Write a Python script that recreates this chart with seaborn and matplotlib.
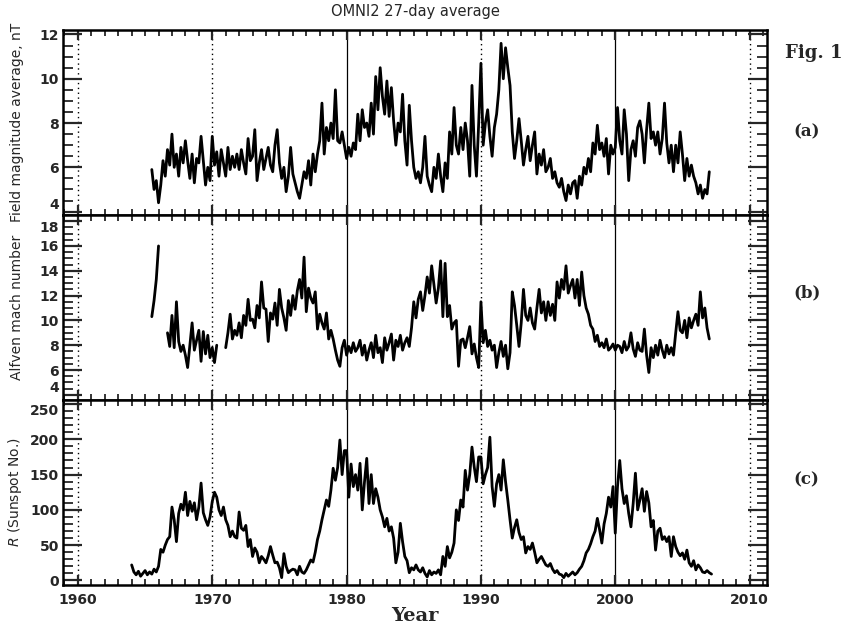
import numpy as np
import pandas as pd
import matplotlib
matplotlib.use("Agg")
import matplotlib.pyplot as plt
from matplotlib.ticker import MultipleLocator
import seaborn as sns

# ---------------- data (27-day averages, 6 samples / year) ----
STEP = 1.0 / 6.0

# (a) Field magnitude average, nT  -- starts 1965.5
B_START = 1965.5
B_1960s = [5.9, 5.0, 5.4,
           4.4, 5.2, 6.3, 5.6, 6.8, 6.1,
           7.5, 6.0, 6.6, 5.6, 6.9, 6.2,
           7.2, 6.3, 5.5, 6.6, 5.3, 6.4,
           6.2, 7.4, 6.3, 5.2, 6.0, 5.4]
B_1970s = [7.4, 6.1, 6.7, 5.6, 6.8, 6.2,
           5.6, 6.9, 5.9, 6.5, 6.0, 6.6,
           5.9, 6.8, 6.2, 5.7, 7.3, 6.3,
           6.5, 7.7, 5.4, 6.2, 6.8, 5.9,
           6.4, 6.9, 6.1, 5.8, 7.0, 7.7,
           6.2, 5.5, 6.0, 4.9, 5.6, 6.9,
           5.7, 5.3, 4.9, 4.6, 5.2, 5.8,
           5.5, 6.3, 5.2, 6.6, 5.8, 6.6,
           7.2, 8.9, 6.6, 7.8, 7.2, 8.0,
           7.3, 9.5, 7.2, 7.1, 7.6, 7.0]
B_1980s = [6.4, 6.9, 6.5, 7.1, 6.8, 8.4,
           7.2, 8.6, 7.8, 8.0, 7.4, 8.9,
           7.5, 10.1, 8.6, 10.5, 9.2, 8.4,
           9.9, 8.3, 9.6, 8.1, 7.0, 8.0,
           7.6, 9.3, 7.2, 6.1, 8.8, 7.2,
           6.0, 5.5, 5.8, 5.3, 6.0, 7.4,
           5.6, 5.2, 4.9, 6.0, 5.5, 6.6,
           5.6, 4.9, 6.2, 5.5, 7.6, 6.6,
           8.7, 7.0, 6.6, 7.8, 6.8, 8.0,
           7.2, 5.6, 9.7, 7.0, 5.6, 8.0]
B_1990s = [10.7, 7.0, 8.0, 8.6, 7.4, 6.5,
           7.8, 8.4, 9.5, 11.6, 10.0, 11.4,
           10.5, 9.7, 7.6, 6.4, 7.2, 8.2,
           7.2, 6.1, 6.8, 7.4, 6.3, 7.0,
           7.6, 5.7, 6.6, 6.1, 6.8, 5.8,
           6.0, 6.4, 5.5, 5.8, 5.3, 5.1,
           5.5, 4.9, 4.5, 5.2, 4.8, 5.3,
           5.4, 4.6, 5.6, 5.2, 6.0, 5.7,
           6.4, 5.8, 7.1, 6.6, 7.9, 6.8,
           7.1, 6.5, 7.3, 5.7, 7.0, 6.6]
B_2000s = [6.9, 8.7, 7.2, 6.6, 8.6, 7.5,
           5.4, 6.8, 7.2, 6.5, 7.8, 8.1,
           7.5, 6.2, 7.7, 8.9, 7.3, 7.6,
           7.0, 7.6, 6.6, 7.3, 8.9, 7.1,
           6.2, 7.0, 5.8, 7.0, 6.2, 7.6,
           6.6, 5.4, 6.4, 5.6, 6.1, 5.6,
           5.3, 4.8, 5.2, 4.6, 5.0, 4.8,
           5.8]

# (b) Alfven mach number -- three data segments
MA_SEG1_START = 1965.5
MA_SEG1 = [10.3, 11.6, 13.3, 16.0]
MA_SEG2_START = 1966.6667
MA_SEG2 = [9.0, 7.9,
           10.4, 7.8, 11.5, 8.3, 7.5, 8.0,
           7.2, 6.2, 8.0, 9.8, 7.6, 8.4,
           9.2, 6.7, 9.1, 7.3, 8.8, 7.0,
           7.8, 6.6, 8.0]
MA_SEG3_START = 1971.0
MA_1970s = [7.8, 9.0, 10.5, 8.5, 9.2, 8.8,
            9.8, 8.6, 10.4, 9.6, 11.7, 10.0,
            10.1, 9.4, 11.2, 10.2, 13.1, 11.0,
            10.9, 8.3, 10.6, 10.1, 11.4, 9.6,
            12.5, 11.0, 10.2, 9.2, 11.6, 10.4,
            12.0, 10.9, 12.4, 13.3, 11.8, 15.1,
            10.7, 12.6, 11.8, 11.4, 12.3, 9.3,
            10.5, 9.8, 9.3, 10.6, 8.5, 9.2,
            8.5, 7.6, 6.8, 6.3, 7.8, 8.4]
MA_1980s = [7.2, 7.9, 7.4, 8.2, 7.5, 7.8,
            8.4, 7.2, 8.0, 6.8, 7.6, 8.2,
            7.0, 8.8, 7.4, 7.8, 6.6, 8.6,
            7.6, 8.2, 8.9, 6.8, 8.4, 7.9,
            8.8, 7.6, 8.2, 8.6, 7.9, 9.4,
            11.5, 10.2, 11.7, 12.3, 10.8, 12.0,
            13.5, 12.2, 14.4, 12.9, 11.4, 12.6,
            14.8, 10.3, 14.6, 10.3, 11.2, 9.3,
            9.8, 10.0, 6.3, 8.4, 8.5, 7.8,
            8.6, 9.5, 7.3, 8.1, 7.0, 6.2]
MA_1990s = [11.5, 8.2, 9.2, 7.9, 8.4, 7.6,
            8.0, 6.2, 7.4, 8.3, 7.1, 8.0,
            6.1, 7.4, 12.3, 11.2, 9.6, 7.9,
            9.8, 12.5, 10.4, 10.0, 11.0, 9.8,
            9.3, 11.0, 12.5, 10.6, 11.5, 10.0,
            11.5, 10.4, 11.3, 10.0, 13.1, 11.8,
            13.3, 12.5, 14.4, 12.2, 12.8, 13.3,
            11.8, 13.3, 11.2, 13.9, 12.0, 11.0,
            10.5, 9.6, 9.3, 8.3, 8.8, 7.9,
            8.2, 7.8, 8.5, 7.6, 7.8, 8.1]
MA_2000s = [7.6, 8.0, 7.9, 7.4, 8.3, 7.6,
            7.9, 9.0, 7.7, 7.1, 8.2, 7.6,
            7.5, 9.3, 7.2, 5.8, 7.8, 7.0,
            8.0, 7.2, 8.4, 7.6, 7.0, 8.0,
            7.3, 7.8, 7.2, 9.0, 10.7, 9.2,
            9.0, 10.0, 8.6, 10.2, 9.4, 10.0,
            10.5, 9.6, 12.3, 10.2, 11.0, 9.4,
            8.5]

# (c) Sunspot number R -- starts 1964.0
R_START = 1964.0
R_1960s = [22, 12, 8, 13, 6, 10,
           14, 8, 12, 9, 16, 12,
           20, 44, 40, 50, 58, 62,
           104, 86, 55, 95, 108, 100,
           125, 92, 112, 98, 110, 86,
           104, 138, 96, 86, 78, 90]
R_1970s = [112, 125, 118, 100, 92, 104,
           86, 78, 62, 70, 62, 60,
           97, 74, 71, 78, 48, 58,
           34, 46, 40, 25, 34, 30,
           25, 35, 48, 36, 25, 26,
           18, 4, 38, 20, 11, 14,
           16, 15, 8, 20, 12, 10,
           15, 22, 29, 26, 40, 58,
           70, 86, 100, 114, 105, 128,
           159, 142, 160, 199, 150, 184]
R_1980s = [184, 118, 165, 133, 150, 128,
           166, 100, 140, 173, 109, 150,
           109, 130, 118, 100, 90, 76,
           88, 70, 76, 60, 25, 40,
           81, 55, 34, 28, 11, 18,
           15, 22, 15, 12, 18, 10,
           5, 14, 8, 12, 10, 15,
           8, 34, 20, 48, 32, 40,
           53, 100, 85, 114, 104, 156,
           128, 150, 189, 161, 140, 175]
R_1990s = [175, 137, 150, 160, 203, 133,
           105, 137, 150, 128, 171, 140,
           114, 86, 60, 75, 86, 68,
           58, 62, 39, 48, 44, 53,
           40, 25, 30, 34, 28, 22,
           20, 24, 16, 11, 14, 9,
           8, 4, 10, 6, 9, 12,
           8, 11, 16, 20, 28, 39,
           44, 52, 62, 70, 88, 72,
           53, 80, 95, 118, 104, 133]
R_2000s = [67, 133, 170, 130, 109, 120,
           95, 76, 109, 152, 100, 114,
           130, 98, 126, 110, 76, 85,
           43, 70, 74, 58, 62, 55,
           62, 34, 62, 48, 40, 35,
           39, 30, 43, 25, 20, 28,
           15, 22, 18, 12, 11, 14,
           11, 9]

DECADES = [1960, 1970, 1980, 1990, 2000, 2010]
SOLID_DECADES = [1980, 2000]

YLABELS = ["Field magnitude average, nT", "Alfven mach number",
           r"$\it{R}$ (Sunspot No.)"]
PANEL_TAGS = ["(a)", "(b)", "(c)"]


def series(start, values, seg):
    vals = np.asarray(values, dtype=float)
    t = start + STEP * np.arange(len(vals))
    return pd.DataFrame({"year": t, "value": vals, "seg": seg})


df_b = series(B_START, B_1960s + B_1970s + B_1980s + B_1990s + B_2000s, 0)
df_m = pd.concat([series(MA_SEG1_START, MA_SEG1, 0),
                  series(MA_SEG2_START, MA_SEG2, 1),
                  series(MA_SEG3_START, MA_1970s + MA_1980s + MA_1990s + MA_2000s, 2)])
df_r = series(R_START, R_1960s + R_1970s + R_1980s + R_1990s + R_2000s, 0)

# ---------------- figure ----------------
sns.set_theme(style="ticks")
plt.rcParams["font.family"] = ["DejaVu Sans"]

fig, axes = plt.subplots(3, 1, sharex=True, figsize=(8.42, 6.26), dpi=100)
fig.subplots_adjust(left=0.075, right=0.911, top=0.952, bottom=0.066, hspace=0)

frames = [df_b, df_m, df_r]
ylims = [(3.85, 12.2), (3.6, 18.5), (-6, 256)]
ymajor = [2, 2, 50]
yminor = [0.5, 0.5, 10]

for ax, df, ylim, ymj, ymn, ylab in zip(axes, frames, ylims, ymajor, yminor, YLABELS):
    for s, g in df.groupby("seg"):
        sns.lineplot(data=g, x="year", y="value", ax=ax, color="black",
                     linewidth=2.0, estimator=None, sort=False, legend=False)
    for d in DECADES:
        if d in SOLID_DECADES:
            ax.axvline(d, color="black", lw=0.9, zorder=0)
        else:
            ax.axvline(d, color="black", lw=1.0, ls=(0, (1, 2.5)), zorder=0)
    ax.set_xlim(1958.9, 2011.3)
    ax.set_ylim(*ylim)
    ax.yaxis.set_major_locator(MultipleLocator(ymj))
    ax.yaxis.set_minor_locator(MultipleLocator(ymn))
    ax.xaxis.set_major_locator(MultipleLocator(10))
    ax.xaxis.set_minor_locator(MultipleLocator(1))
    ax.tick_params(axis="y", which="major", direction="in", length=14, width=1.6,
                   left=True, right=True, labelsize=10, pad=3)
    ax.tick_params(axis="y", which="minor", direction="in", length=7, width=1.3,
                   left=True, right=True)
    ax.tick_params(axis="x", which="major", direction="in", length=7, width=1.6,
                   top=True, bottom=True, labelsize=10, pad=6)
    ax.tick_params(axis="x", which="minor", direction="in", length=4, width=1.3,
                   top=True, bottom=True)
    for sp in ax.spines.values():
        sp.set_linewidth(1.8)
        sp.set_color("black")
    ax.set_ylabel(ylab, fontsize=10, labelpad=4)
    ax.set_xlabel("")
    ax.set_facecolor("white")

fig.canvas.draw()
for i, ax in enumerate(axes):
    lo, hi = ax.get_ylim()
    for lbl, val in zip(ax.get_yticklabels(), ax.get_yticks()):
        lbl.set_fontweight("bold")
        if lo <= val <= hi:
            if i > 0 and hi - val < 0.06 * (hi - lo):
                lbl.set_va("top")
            if i < len(axes) - 1 and val - lo < 0.06 * (hi - lo):
                lbl.set_va("bottom")
    for lbl in ax.get_xticklabels():
        lbl.set_fontweight("bold")

axes[-1].set_xlabel("Year", fontsize=14, fontweight="bold", family="DejaVu Serif",
                    labelpad=0)
fig.align_ylabels(axes)

fig.text(0.493, 0.982, "OMNI2 27-day average", ha="center", va="center", fontsize=10.5)
fig.text(0.966, 0.915, "Fig. 1", ha="center", va="center", fontsize=13,
         fontweight="bold", family="DejaVu Serif")
tag_y = [0.79, 0.532, 0.233]
for tag, ty in zip(PANEL_TAGS, tag_y):
    fig.text(0.958, ty, tag, ha="center", va="center", fontsize=12,
             fontweight="bold", family="DejaVu Serif")

fig.savefig("out.png", dpi=100, facecolor="white")
